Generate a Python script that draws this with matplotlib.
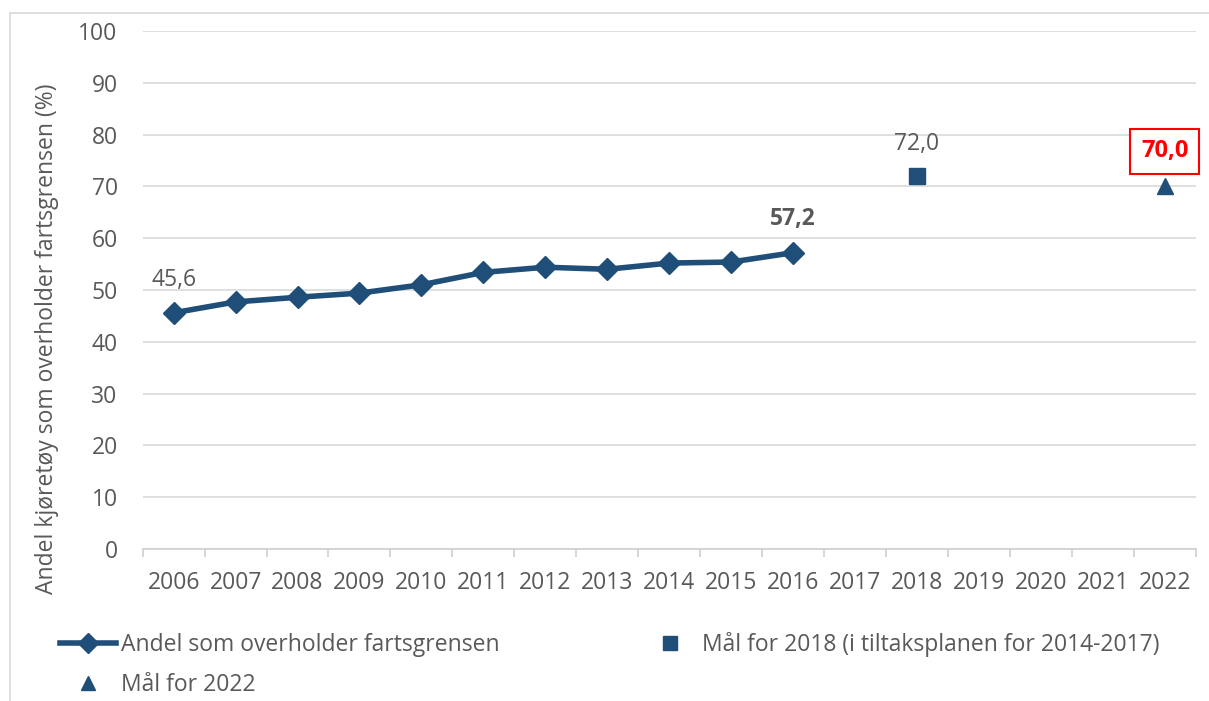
import matplotlib
matplotlib.use("Agg")
import matplotlib.pyplot as plt
from matplotlib.patches import Rectangle

plt.rcParams["font.family"] = ["Open Sans", "DejaVu Sans"]

# category axis: every year from 2006 to 2022
years = ["2006", "2007", "2008", "2009", "2010", "2011", "2012", "2013",
         "2014", "2015", "2016", "2017", "2018", "2019", "2020", "2021", "2022"]

# observed share of vehicles keeping to the speed limit
obs_years = ["2006", "2007", "2008", "2009", "2010", "2011", "2012", "2013",
             "2014", "2015", "2016"]
obs_share = [45.6, 47.7, 48.6, 49.4, 51.0, 53.4, 54.4, 54.0, 55.2, 55.4, 57.2]

goal_2018 = 72.0
goal_2022 = 70.0

BLUE = "#1f4e79"
GREY = "#595959"
FS = 16.5


def fmt(v):
    return f"{v:.1f}".replace(".", ",")


fig = plt.figure(figsize=(12.09, 7.01), dpi=100)
ax = fig.add_axes([0.118, 0.2168, 0.871, 0.739])

xpos = {y: i for i, y in enumerate(years)}
xo = [xpos[y] for y in obs_years]

ax.plot(xo, obs_share, color=BLUE, lw=4, marker="D", ms=11, zorder=3,
        label="Andel som overholder fartsgrensen")
ax.plot([xpos["2018"]], [goal_2018], ls="none", marker="s", ms=11, color=BLUE,
        zorder=3, label="Mål for 2018 (i tiltaksplanen for 2014-2017)")
ax.plot([xpos["2022"]], [goal_2022], ls="none", marker="^", ms=11, color=BLUE,
        zorder=3, label="Mål for 2022")

ax.set_xlim(-0.5, len(years) - 0.5)
ax.set_ylim(0, 100)
ax.set_yticks(range(0, 101, 10))
ax.set_xticks(range(len(years)))
ax.set_xticklabels(years)
ax.set_xticks([i - 0.5 for i in range(len(years) + 1)], minor=True)
ax.tick_params(axis="x", which="major", length=0, pad=16, labelsize=FS, labelcolor=GREY)
ax.tick_params(axis="x", which="minor", length=6, color="#d0d0d0", width=1.2)
ax.tick_params(axis="y", length=0, pad=18, labelsize=FS, labelcolor=GREY)

ax.grid(axis="y", color="#d9d9d9", lw=1.2)
ax.set_axisbelow(True)
for s in ["top", "right", "left"]:
    ax.spines[s].set_visible(False)
ax.spines["bottom"].set_color("#d0d0d0")
ax.spines["bottom"].set_linewidth(1.2)

ax.set_ylabel("Andel kjøretøy som overholder fartsgrensen (%)", fontsize=16.5,
              color=GREY)
ax.yaxis.set_label_coords(-0.079, 0.405)

# data labels
ax.annotate(fmt(obs_share[0]), (xo[0], obs_share[0]),
            xytext=(0, 19), textcoords="offset points", ha="center",
            fontsize=FS, color=GREY)
ax.annotate(fmt(obs_share[-1]), (xo[-1], obs_share[-1]),
            xytext=(0, 20), textcoords="offset points", ha="center",
            fontsize=FS, color=GREY, fontweight="bold")
ax.annotate(fmt(goal_2018), (xpos["2018"], goal_2018),
            xytext=(0, 19), textcoords="offset points", ha="center",
            fontsize=FS, color=GREY)
ax.annotate(fmt(goal_2022), (xpos["2022"], goal_2022),
            xytext=(0, 21), textcoords="offset points", ha="center",
            fontsize=17, color="#ff0000", fontweight="bold",
            bbox=dict(boxstyle="square,pad=0.45", fc="white", ec="#ff0000", lw=1.5))

# legend below the plot
handles, labels = ax.get_legend_handles_labels()
order = [0, 2, 1]
fig.legend([handles[i] for i in order], [labels[i] for i in order],
           loc="upper left", bbox_to_anchor=(60 / 1209, 1 - 632 / 701), ncol=2,
           frameon=False, fontsize=FS, labelcolor=GREY, handlelength=2.45,
           handletextpad=0.2, columnspacing=6.2, borderaxespad=0, borderpad=0,
           labelspacing=0.7, markerscale=0.9)

# light frame around the chart area
fig.add_artist(Rectangle((10 / 1209, -0.01), 1.0, 1 - 13 / 701 + 0.01,
                         transform=fig.transFigure, fill=False,
                         ec="#d9d9d9", lw=1.2))

fig.savefig("out.png", dpi=100)
